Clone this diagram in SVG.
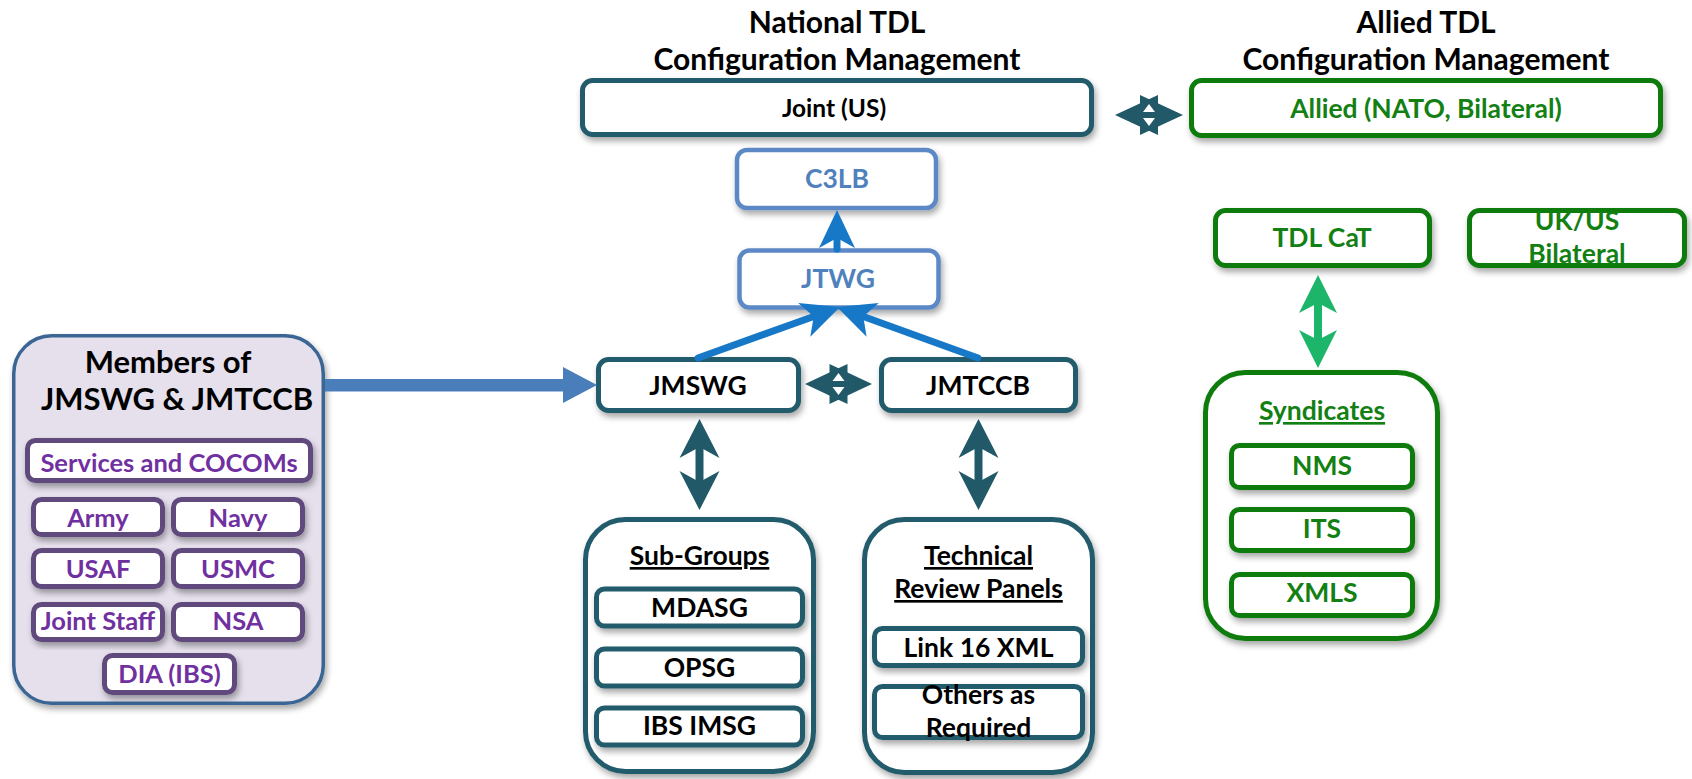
<svg xmlns="http://www.w3.org/2000/svg" width="1692" height="779" viewBox="0 0 1692 779">
<defs>
<style>
.t{font-family:Lato,'Liberation Sans',sans-serif;font-weight:700;text-anchor:middle}
.h{font-size:30px;fill:#000}
.m{font-size:26.5px}
.k{fill:#000}
.tb{fill:#4F81BD}
.tg{fill:#138013}
.tp{fill:#7030A0;font-size:25.5px}
.teal{fill:#fff;stroke:#245C6C;stroke-width:5}
.lb{fill:#fff;stroke:#5B89C6;stroke-width:4.5}
.gr{fill:#fff;stroke:#0E7C0E;stroke-width:5}
.pu{fill:#fff;stroke:#604A7B;stroke-width:5}
.u{text-decoration:underline}
</style>
<filter id="sh" x="-10%" y="-10%" width="130%" height="140%">
<feDropShadow dx="2" dy="4" stdDeviation="3" flood-color="#000" flood-opacity="0.35"/>
</filter>
</defs>
<rect width="1692" height="779" fill="#fff"/>

<g id="titles">
<text class="t h" x="837" y="33">National TDL</text>
<text class="t h" x="837" y="70">Configuration Management</text>
<text class="t h" x="1426" y="33">Allied TDL</text>
<text class="t h" x="1426" y="70">Configuration Management</text>
</g>

<g id="joint"><rect class="teal" filter="url(#sh)" x="582.5" y="80.5" width="509" height="54" rx="10"/><text class="t k" style="font-size:24.5px" x="834" y="117">Joint (US)</text></g>
<g id="allied"><rect class="gr" filter="url(#sh)" x="1191.5" y="80.5" width="469" height="55" rx="10"/><text class="t m tg" x="1426" y="118">Allied (NATO, Bilateral)</text></g>
<g id="c3lb"><rect class="lb" filter="url(#sh)" x="737" y="150" width="199" height="58" rx="10"/><text class="t m tb" x="837" y="188">C3LB</text></g>
<g id="jtwg"><rect class="lb" filter="url(#sh)" x="739.5" y="250.5" width="199" height="57" rx="10"/><text class="t m tb" x="838" y="288">JTWG</text></g>
<g id="jmswg"><rect class="teal" filter="url(#sh)" x="598.5" y="359.5" width="200" height="51" rx="10"/><text class="t m k" x="698" y="395">JMSWG</text></g>
<g id="jmtccb"><rect class="teal" filter="url(#sh)" x="881.5" y="359.5" width="194" height="51" rx="10"/><text class="t m k" x="978" y="395">JMTCCB</text></g>

<g id="subgroups">
<rect class="teal" filter="url(#sh)" x="585.5" y="519.5" width="228" height="252" rx="40"/>
<text class="t m k u" x="699.5" y="565">Sub-Groups</text>
<rect class="teal" filter="url(#sh)" x="596.5" y="589" width="206" height="37" rx="8"/>
<text class="t m k" x="699.5" y="617">MDASG</text>
<rect class="teal" filter="url(#sh)" x="596.5" y="649" width="206" height="37" rx="8"/>
<text class="t m k" x="699.5" y="677">OPSG</text>
<rect class="teal" filter="url(#sh)" x="596.5" y="708" width="206" height="37" rx="8"/>
<text class="t m k" x="699.5" y="735">IBS IMSG</text>
</g>

<g id="trp">
<rect class="teal" filter="url(#sh)" x="864.5" y="519.5" width="228" height="253" rx="40"/>
<text class="t m k u" x="978.5" y="565">Technical</text>
<text class="t m k u" x="978.5" y="598">Review Panels</text>
<rect class="teal" filter="url(#sh)" x="874.5" y="628.5" width="208" height="37" rx="8"/>
<text class="t m k" x="978.5" y="657">Link 16 XML</text>
<rect class="teal" filter="url(#sh)" x="874.5" y="686.5" width="208" height="51" rx="8"/>
<text class="t m k" x="978.5" y="704">Others as</text>
<text class="t m k" x="978.5" y="737">Required</text>
</g>

<g id="members">
<rect filter="url(#sh)" x="13.75" y="335.75" width="309.5" height="367.5" rx="38" fill="#E5E0EC" stroke="#3A6593" stroke-width="3.5"/>
<text class="t k" style="font-size:31px" x="168" y="373">Members of</text>
<text class="t k" style="font-size:31px" x="177" y="410">JMSWG &amp; JMTCCB</text>
<rect class="pu" filter="url(#sh)" x="27.5" y="440.5" width="283" height="40" rx="8"/>
<text class="t tp" x="169" y="471.5">Services and COCOMs</text>
<rect class="pu" filter="url(#sh)" x="33.5" y="499.5" width="129" height="35" rx="8"/>
<text class="t tp" x="98" y="527">Army</text>
<rect class="pu" filter="url(#sh)" x="173.5" y="499.5" width="129" height="35" rx="8"/>
<text class="t tp" x="238" y="527">Navy</text>
<rect class="pu" filter="url(#sh)" x="33.5" y="550.5" width="129" height="36" rx="8"/>
<text class="t tp" x="98" y="578">USAF</text>
<rect class="pu" filter="url(#sh)" x="173.5" y="550.5" width="129" height="36" rx="8"/>
<text class="t tp" x="238" y="578">USMC</text>
<rect class="pu" filter="url(#sh)" x="33.5" y="604.5" width="129" height="35" rx="8"/>
<text class="t tp" x="98" y="630">Joint Staff</text>
<rect class="pu" filter="url(#sh)" x="173.5" y="604.5" width="129" height="35" rx="8"/>
<text class="t tp" x="238" y="630">NSA</text>
<rect class="pu" filter="url(#sh)" x="104.5" y="655.5" width="130" height="37" rx="8"/>
<text class="t tp" x="169.5" y="683">DIA (IBS)</text>
</g>

<g id="tdlcat"><rect class="gr" filter="url(#sh)" x="1215.5" y="210.5" width="214" height="55" rx="10"/><text class="t m tg" x="1322" y="247">TDL CaT</text></g>
<g id="ukus"><rect class="gr" filter="url(#sh)" x="1469.5" y="210.5" width="215" height="55" rx="10"/><text class="t m tg" x="1577" y="230">UK/US</text><text class="t m tg" x="1577" y="263">Bilateral</text></g>

<g id="syndicates">
<rect class="gr" filter="url(#sh)" x="1205.5" y="372.5" width="232" height="266" rx="40"/>
<text class="t m tg u" x="1322" y="420">Syndicates</text>
<rect class="gr" filter="url(#sh)" x="1231.5" y="445.5" width="181" height="42" rx="8"/>
<text class="t m tg" x="1322" y="475">NMS</text>
<rect class="gr" filter="url(#sh)" x="1231.5" y="509.5" width="181" height="41" rx="8"/>
<text class="t m tg" x="1322" y="538">ITS</text>
<rect class="gr" filter="url(#sh)" x="1231.5" y="574.5" width="181" height="41" rx="8"/>
<text class="t m tg" x="1322" y="602">XMLS</text>
</g>

<g id="connectors">
<polygon points="1115,115 1158,95 1158,135" fill="#215968"/>
<polygon points="1183,115 1140,95 1140,135" fill="#215968"/>
<polygon points="1149,104 1143,112 1155,112" fill="#fff"/>
<polygon points="1149,126 1143,118 1155,118" fill="#fff"/>
<polygon points="805,384 847.5,364 847.5,404" fill="#215968"/>
<polygon points="872,384 829.5,364 829.5,404" fill="#215968"/>
<polygon points="838.5,373 832.5,381 844.5,381" fill="#fff"/>
<polygon points="838.5,395 832.5,387 844.5,387" fill="#fff"/>
<line x1="837" y1="249" x2="837" y2="230" stroke="#1878C8" stroke-width="7" stroke-linecap="round"/>
<polygon points="837,210 855,248 837,238 819,248" fill="#1878C8"/>
<line x1="698" y1="358" x2="813.7" y2="316.5" stroke="#1878C8" stroke-width="7" stroke-linecap="round"/>
<polygon points="840,307 810.3,336.7 813.7,316.5 798.1,302.9" fill="#1878C8"/>
<line x1="978" y1="358" x2="863.3" y2="316.5" stroke="#1878C8" stroke-width="7" stroke-linecap="round"/>
<polygon points="837,307 866.6,336.8 863.3,316.5 878.8,303" fill="#1878C8"/>
<rect x="325" y="379" width="240" height="12.5" fill="#4A7EBB"/>
<polygon points="563,367 597,385 563,403" fill="#4A7EBB"/>
<line x1="699.5" y1="440" x2="699.5" y2="490" stroke="#215968" stroke-width="8"/>
<polygon points="699.5,419 719.5,458 699.5,447 679.5,458" fill="#215968"/>
<polygon points="699.5,510 719.5,471 699.5,482 679.5,471" fill="#215968"/>
<line x1="978.5" y1="440" x2="978.5" y2="490" stroke="#215968" stroke-width="8"/>
<polygon points="978.5,419 998.5,458 978.5,447 958.5,458" fill="#215968"/>
<polygon points="978.5,510 998.5,471 978.5,482 958.5,471" fill="#215968"/>
<line x1="1318" y1="295" x2="1318" y2="350" stroke="#1DB56A" stroke-width="8" stroke-linecap="round"/>
<polygon points="1318,275 1337,313 1318,303 1299,313" fill="#1DB56A"/>
<polygon points="1318,368 1337,330 1318,340 1299,330" fill="#1DB56A"/>
</g>
</svg>
